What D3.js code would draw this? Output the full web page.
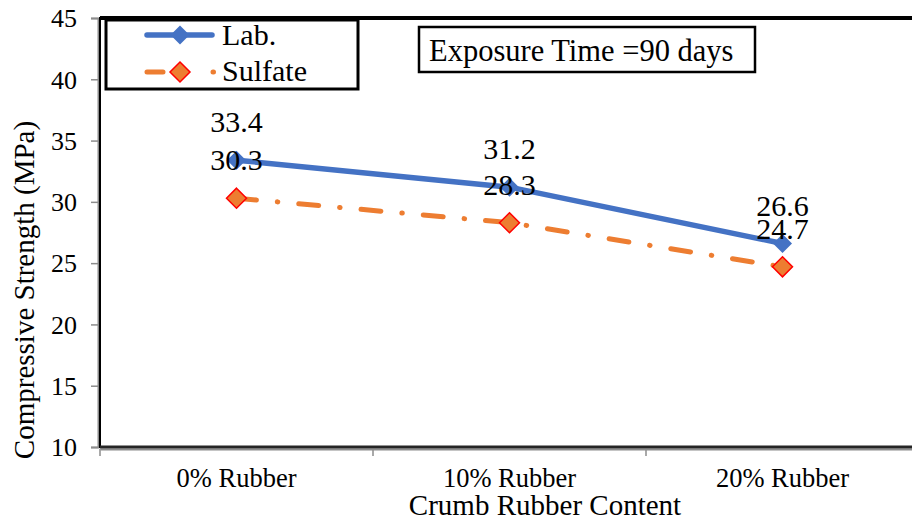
<!DOCTYPE html>
<html>
<head>
<meta charset="utf-8">
<script src="https://cdn.jsdelivr.net/npm/d3@7"></script>
</head>
<body style="margin:0; background:#fff">
<div id="chart"></div>
<script>
// chart data
const categories = ["0% Rubber", "10% Rubber", "20% Rubber"];
const labValues = [33.4, 31.2, 26.6];
const sulfateValues = [30.3, 28.3, 24.7];
const yTicks = [10, 15, 20, 25, 30, 35, 40, 45];

const FONT = '"Liberation Serif", Tinos, "Times New Roman", serif';
const width = 912, height = 522;
const margin = {top: 18, left: 100, bottom: 75};
const bandW = 273;

const svg = d3.select("#chart").append("svg")
  .attr("width", width)
  .attr("height", height)
  .attr("font-family", FONT);

const x = d3.scaleBand()
  .domain(categories)
  .range([margin.left, margin.left + bandW * categories.length]);

const y = d3.scaleLinear()
  .domain([10, 45])
  .range([height - margin.bottom, margin.top]);

const plotBottom = y(10), plotTop = y(45);
const plotRight = margin.left + bandW * categories.length;

// text helper: every label gets its own family and size
function label(sel, size) {
  return sel.style("font-family", FONT).style("font-size", size + "px").attr("fill", "#000");
}

// y axis (gray)
const yAxis = svg.append("g")
  .attr("transform", `translate(${margin.left - 2},0)`)
  .call(d3.axisLeft(y).tickValues(yTicks).tickSize(7).tickPadding(14));
yAxis.attr("font-family", FONT).attr("font-size", 26);
yAxis.select(".domain").attr("stroke", "#8c8c8c").attr("stroke-width", 2);
yAxis.selectAll(".tick line").attr("stroke", "#8c8c8c").attr("stroke-width", 1.5);
yAxis.selectAll(".tick text").call(label, 26).attr("dy", "0.34em");

// x axis (gray)
const xAxis = svg.append("g")
  .attr("transform", `translate(0,${plotBottom + 2})`)
  .call(d3.axisBottom(x).tickSize(0).tickPadding(19));
xAxis.attr("font-family", FONT).attr("font-size", 26.5);
xAxis.select(".domain").attr("stroke", "#8c8c8c").attr("stroke-width", 2);
xAxis.selectAll(".tick text").call(label, 26.5);

// category boundary ticks
svg.append("g").selectAll("line")
  .data(categories)
  .join("line")
  .attr("x1", d => x(d))
  .attr("x2", d => x(d))
  .attr("y1", plotBottom + 2)
  .attr("y2", plotBottom + 9)
  .attr("stroke", "#8c8c8c")
  .attr("stroke-width", 1.5);

// plot area border (black)
svg.append("path")
  .attr("d", `M${plotRight},${plotTop}H${margin.left}V${plotBottom}H${plotRight}`)
  .attr("fill", "none")
  .attr("stroke", "#000")
  .attr("stroke-width", 2);
svg.append("line")
  .attr("x1", margin.left).attr("x2", plotRight)
  .attr("y1", plotTop).attr("y2", plotTop)
  .attr("stroke", "#000").attr("stroke-width", 4);
svg.append("line")
  .attr("x1", margin.left).attr("x2", plotRight)
  .attr("y1", plotBottom).attr("y2", plotBottom)
  .attr("stroke", "#262626").attr("stroke-width", 3);

// axis titles
svg.append("text")
  .attr("x", 545).attr("y", 515)
  .attr("text-anchor", "middle")
  .call(label, 29)
  .text("Crumb Rubber Content");

svg.append("text")
  .attr("transform", "translate(34,290) rotate(-90)")
  .attr("text-anchor", "middle")
  .call(label, 29)
  .text("Compressive Strength (MPa)");

const cx = d => x(d) + x.bandwidth() / 2;
const line = d3.line().x(d => cx(d.c)).y(d => y(d.v));
const labData = categories.map((c, i) => ({c, v: labValues[i]}));
const sulData = categories.map((c, i) => ({c, v: sulfateValues[i]}));

const diamond = s => `M0,${-s}L${s},0L0,${s}L${-s},0Z`;

// Lab series
svg.append("path")
  .datum(labData)
  .attr("d", line)
  .attr("fill", "none")
  .attr("stroke", "#4472c4")
  .attr("stroke-width", 5.5)
  .attr("stroke-linecap", "round");

svg.append("g").selectAll("path")
  .data(labData)
  .join("path")
  .attr("transform", d => `translate(${cx(d.c)},${y(d.v)})`)
  .attr("d", diamond(9.5))
  .attr("fill", "#4472c4");

// Sulfate series
svg.append("path")
  .datum(sulData)
  .attr("d", line)
  .attr("fill", "none")
  .attr("stroke", "#ed7d31")
  .attr("stroke-width", 5)
  .attr("stroke-linecap", "round")
  .attr("stroke-dasharray", "20,21,0.5,21");

svg.append("g").selectAll("path")
  .data(sulData)
  .join("path")
  .attr("transform", d => `translate(${cx(d.c)},${y(d.v)})`)
  .attr("d", diamond(10))
  .attr("fill", "#ed7d31")
  .attr("stroke", "#ff0000")
  .attr("stroke-width", 1.5);

// data labels
svg.selectAll(".value-label")
  .data(labData.concat(sulData))
  .join("text")
  .attr("class", "value-label")
  .attr("x", d => cx(d.c))
  .attr("y", d => y(d.v) - 28)
  .attr("text-anchor", "middle")
  .call(label, 30)
  .text(d => d.v.toFixed(1));

// legend
svg.append("rect")
  .attr("x", 106).attr("y", 20)
  .attr("width", 252).attr("height", 69)
  .attr("fill", "#fff")
  .attr("stroke", "#000")
  .attr("stroke-width", 3);
svg.append("line")
  .attr("x1", 147).attr("x2", 212).attr("y1", 35).attr("y2", 35)
  .attr("stroke", "#4472c4").attr("stroke-width", 5.5).attr("stroke-linecap", "round");
svg.append("path")
  .attr("transform", "translate(180,35)")
  .attr("d", diamond(9.5))
  .attr("fill", "#4472c4");
svg.append("text")
  .attr("x", 222).attr("y", 45)
  .call(label, 30)
  .text("Lab.");
svg.append("line")
  .attr("x1", 147).attr("x2", 213.5).attr("y1", 72).attr("y2", 72)
  .attr("stroke", "#ed7d31").attr("stroke-width", 5).attr("stroke-linecap", "round")
  .attr("stroke-dasharray", "16,50,0.5,50");
svg.append("path")
  .attr("transform", "translate(180,72)")
  .attr("d", diamond(10))
  .attr("fill", "#ed7d31")
  .attr("stroke", "#ff0000")
  .attr("stroke-width", 1.5);
svg.append("text")
  .attr("x", 222).attr("y", 81)
  .call(label, 30)
  .text("Sulfate");

// annotation box
svg.append("rect")
  .attr("x", 419).attr("y", 27)
  .attr("width", 336).attr("height", 45)
  .attr("fill", "#fff")
  .attr("stroke", "#000")
  .attr("stroke-width", 2.5);
svg.append("text")
  .attr("x", 429).attr("y", 61)
  .call(label, 30.5)
  .text("Exposure Time =90 days");
</script>
</body>
</html>
